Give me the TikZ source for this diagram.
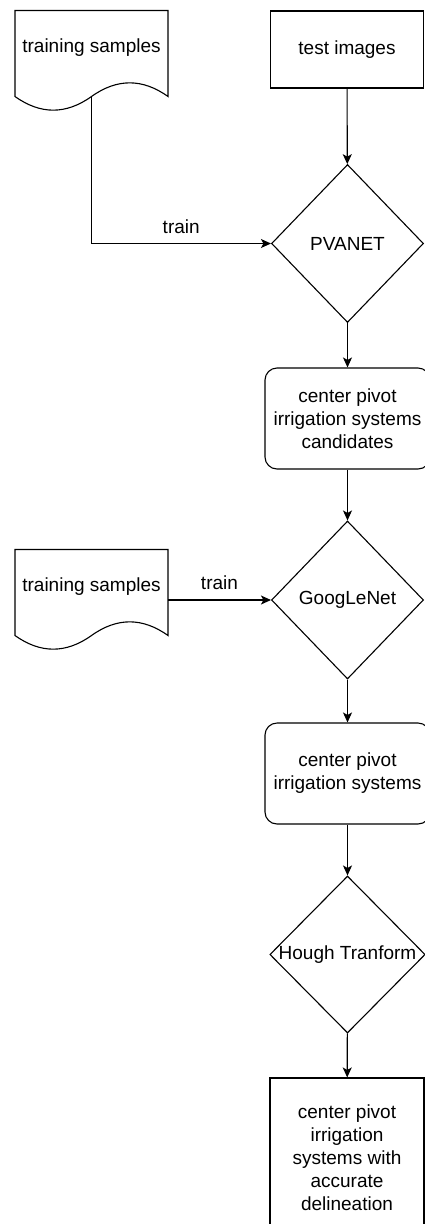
\documentclass[tikz,border=0pt]{standalone}
\usepackage{fontspec}
\setmainfont{Liberation Sans}
\usepackage{tikz}
\usetikzlibrary{calc,arrows.meta,shapes.geometric,positioning}

\tikzset{
  flow/.style={-{Stealth[length=10pt,width=9pt,inset=2.5pt]}, line width=1.1pt},
  procbox/.style={rectangle, draw, line width=1.1pt, align=center, inner sep=0pt},
  stepround/.style={procbox, rounded corners=12pt},
  decide/.style={diamond, draw, line width=1.1pt, inner sep=0pt, minimum width=152pt, minimum height=158pt}
}
\newcommand{\docshape}[1]{%
  \draw[line width=1.1pt] ([shift={(-76.5,-37.5)}]#1.center) -- ([shift={(76.5,-37.5)}]#1.center)
    -- ([shift={(76.5,48.5)}]#1.center)
    .. controls ([shift={(51,30.3)}]#1.center) and ([shift={(25.5,30.3)}]#1.center) .. ([shift={(0,48.5)}]#1.center)
    .. controls ([shift={(-25.5,66.7)}]#1.center) and ([shift={(-51,66.7)}]#1.center) .. ([shift={(-76.5,48.5)}]#1.center)
    -- cycle;}

\begin{document}
\begin{tikzpicture}[x=1pt, y=-1pt, font=\fontsize{19}{23}\selectfont]
  \useasboundingbox (0,0) rectangle (425,1224);

  \node (ts1) at (91.5,48) {training samples};
  \node (ts2) at (91.5,587) {training samples};
  \docshape{ts1}
  \docshape{ts2}
  \coordinate (ts1out) at ([shift={(0,48.5)}]ts1.center);
  \coordinate (ts2out) at ([shift={(76.5,13)}]ts2.center);

  \node[procbox, minimum width=153pt, minimum height=77pt] (test) at (347,49.5) {test images};
  \node[decide] (pvanet) at (347.5,243.5) {PVANET};
  \node[stepround, minimum width=165pt, minimum height=101pt] (cand) at (347.5,418.5) {center pivot\\irrigation systems\\candidates};
  \node[decide] (google) at (347.5,600) {GoogLeNet};
  \node[stepround, minimum width=165pt, minimum height=101pt] (irr) at (347.5,773.5) {center pivot\\irrigation systems};
  \node[decide, minimum height=157pt] (hough) at (347.5,954.5) {Hough Tranform};
  \node[procbox, minimum width=154pt, minimum height=159pt] (result) at (347,1157.5) {center pivot\\irrigation\\systems with\\accurate\\delineation};

  \draw[flow] (test) -- (pvanet);
  \draw[flow] (ts1out) |- node[pos=0.75, above=6pt] {train} (pvanet.west);
  \draw[flow] (pvanet) -- (cand);
  \draw[flow] (cand) -- (google);
  \draw[flow] (ts2out) -- node[above=6pt] {train} (google.west);
  \draw[flow] (google) -- (irr);
  \draw[flow] (irr) -- (hough);
  \draw[flow] (hough) -- (result);
\end{tikzpicture}
\end{document}
